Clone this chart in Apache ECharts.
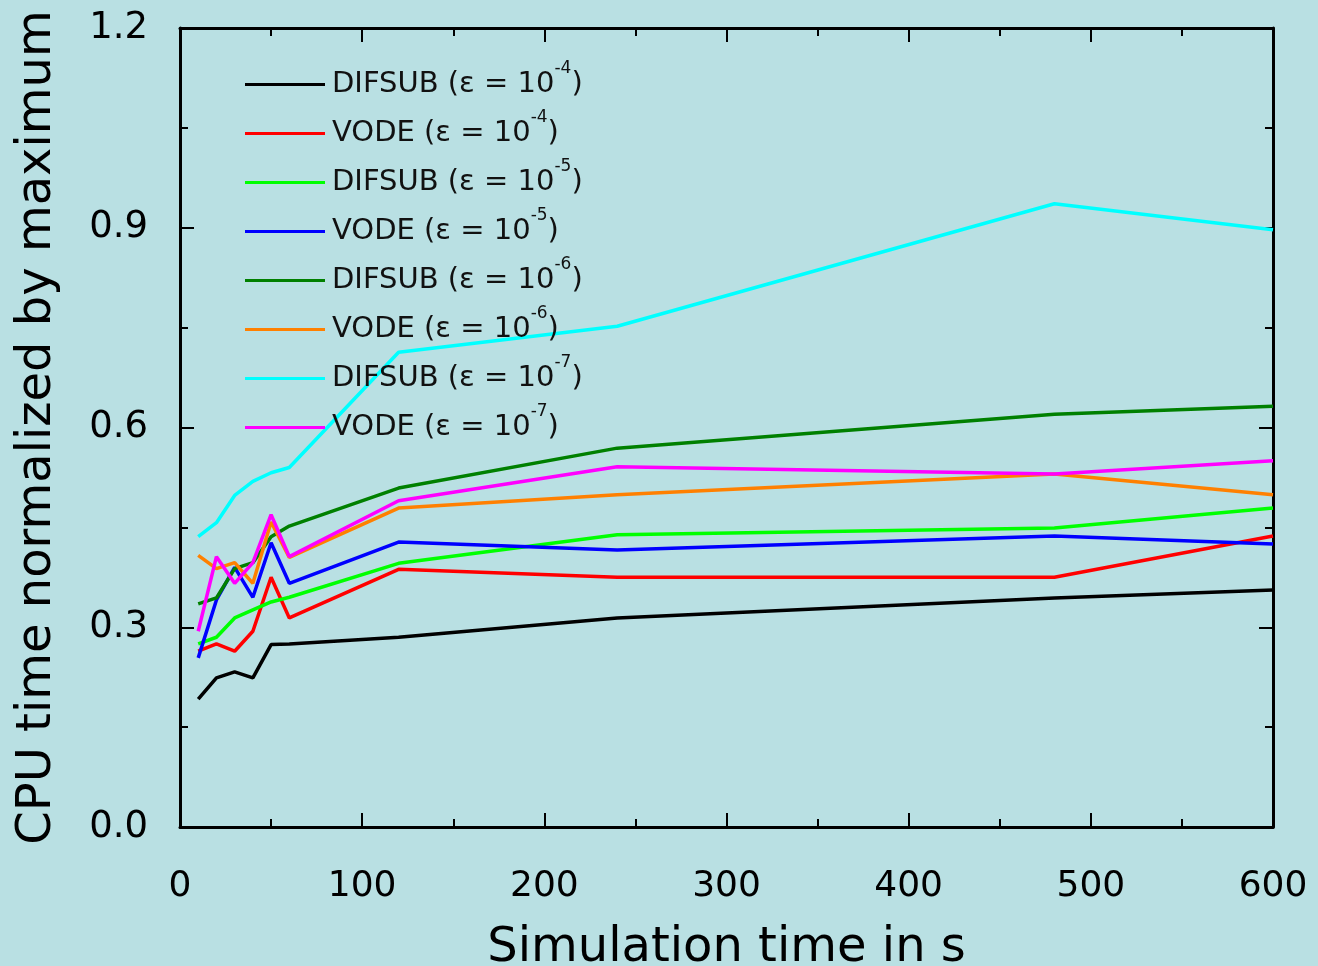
<!DOCTYPE html>
<html>
<head>
<meta charset="utf-8">
<script src="https://cdn.jsdelivr.net/npm/echarts@6/dist/echarts.min.js"></script>
<style>
  html, body { margin: 0; padding: 0; background: #b9e0e3; }
  #chart { width: 1318px; height: 966px; }
</style>
</head>
<body>
<div id="chart"></div>
<script>
// simulation times (s)
const simTimes = [10, 20, 30, 40, 50, 60, 120, 240, 480, 600]

const seriesNames = ['DIFSUB', 'VODE', 'DIFSUB', 'VODE', 'DIFSUB', 'VODE', 'DIFSUB', 'VODE']
const exponents = ['-4', '-4', '-5', '-5', '-6', '-6', '-7', '-7']
const colors = ['#000000', '#ff0000', '#00ff00', '#0000ff', '#008000', '#ff8000', '#00ffff', '#ff00ff']

// CPU time normalized by maximum
const difsub4 = [0.192, 0.224, 0.233, 0.224, 0.274, 0.275, 0.285, 0.314, 0.344, 0.356]
const vode4   = [0.264, 0.275, 0.264, 0.294, 0.375, 0.314, 0.387, 0.375, 0.375, 0.437]
const difsub5 = [0.275, 0.285, 0.314, 0.326, 0.338, 0.345, 0.396, 0.439, 0.449, 0.479]
const vode5   = [0.254, 0.341, 0.390, 0.345, 0.427, 0.366, 0.428, 0.416, 0.437, 0.425]
const difsub6 = [0.335, 0.344, 0.388, 0.397, 0.436, 0.452, 0.509, 0.569, 0.620, 0.632]
const vode6   = [0.408, 0.388, 0.397, 0.366, 0.458, 0.405, 0.479, 0.499, 0.530, 0.499]
const difsub7 = [0.436, 0.457, 0.498, 0.519, 0.532, 0.540, 0.713, 0.752, 0.936, 0.897]
const vode7   = [0.294, 0.406, 0.366, 0.397, 0.469, 0.406, 0.490, 0.541, 0.530, 0.550]

const allValues = [difsub4, vode4, difsub5, vode5, difsub6, vode6, difsub7, vode7]

const xTicks = [0, 100, 200, 300, 400, 500, 600]
const yTicks = [0.0, 0.3, 0.6, 0.9, 1.2]

const labels = seriesNames.map((n, i) => n + ' (ε = 10^' + exponents[i] + ')')

const chart = echarts.init(document.getElementById('chart'))

const axisLineStyle = { color: '#000', width: 3 }
const font = 'DejaVu Sans'

const series = allValues.map((vals, i) => ({
  name: labels[i],
  type: 'line',
  showSymbol: false,
  symbol: 'none',
  lineStyle: { color: colors[i], width: 3.5 },
  itemStyle: { color: colors[i] },
  data: vals.map((v, k) => [simTimes[k], v]),
  animation: false,
  z: 3
}))

const baseX = {
  type: 'value',
  min: xTicks[0],
  max: xTicks[xTicks.length - 1],
  interval: 100,
  axisLine: { show: true, onZero: false, lineStyle: axisLineStyle },
  axisTick: { show: true, inside: true, length: 14, lineStyle: { color: '#000', width: 2 } },
  minorTick: { show: true, splitNumber: 2, length: 8, lineStyle: { color: '#000', width: 2 } },
  splitLine: { show: false }
}
const baseY = {
  type: 'value',
  min: yTicks[0],
  max: yTicks[yTicks.length - 1],
  interval: 0.3,
  axisLine: { show: true, onZero: false, lineStyle: axisLineStyle },
  axisTick: { show: true, inside: true, length: 14, lineStyle: { color: '#000', width: 2 } },
  minorTick: { show: true, splitNumber: 2, length: 8, lineStyle: { color: '#000', width: 2 } },
  splitLine: { show: false }
}

chart.setOption({
  backgroundColor: '#b9e0e3',
  animation: false,
  grid: { left: 180, right: 45, top: 28, bottom: 139, outerBoundsMode: 'none', containLabel: false },
  xAxis: [
    Object.assign({}, baseX, {
      position: 'bottom',
      name: 'Simulation time in s',
      nameLocation: 'middle',
      nameGap: 98,
      nameTextStyle: { fontFamily: font, fontSize: 48, color: '#000' },
      axisLabel: { margin: 42, fontFamily: font, fontSize: 36, color: '#000' }
    }),
    Object.assign({}, baseX, { position: 'top', axisLabel: { show: false } })
  ],
  yAxis: [
    Object.assign({}, baseY, {
      position: 'left',
      name: 'CPU time normalized by maximum',
      nameLocation: 'middle',
      nameGap: 118,
      nameTextStyle: { fontFamily: font, fontSize: 48, color: '#000' },
      axisLabel: {
        margin: 32, fontFamily: font, fontSize: 37, color: '#000',
        formatter: v => v.toFixed(1)
      }
    }),
    Object.assign({}, baseY, { position: 'right', axisLabel: { show: false } })
  ],
  legend: {
    orient: 'vertical',
    left: 240,
    top: 55,
    icon: 'rect',
    itemWidth: 80,
    itemHeight: 3,
    itemGap: 10,
    data: labels,
    formatter: name => {
      const i = labels.indexOf(name)
      return '{t|' + seriesNames[i] + ' (ε = 10}{s|' + exponents[i] + '}{t|)}'
    },
    textStyle: {
      padding: [0, 0, 0, 2],
      rich: {
        t: { fontFamily: font, fontSize: 29, color: '#111', lineHeight: 49 },
        s: { fontFamily: font, fontSize: 17, color: '#111', lineHeight: 30, verticalAlign: 'top' }
      }
    },
    selectedMode: false
  },
  series: series
})
</script>
</body>
</html>
